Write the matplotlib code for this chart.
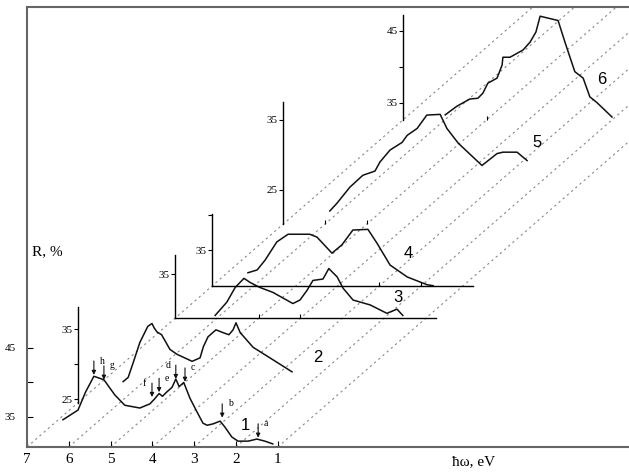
import matplotlib
matplotlib.use("Agg")
import matplotlib.pyplot as plt

W, H = 629, 473
PX_EV = 41.8          # pixels per eV along every energy axis
SLOPE = 0.87          # rise of the perspective diagonals (px up per px right)
SERIF = "Liberation Serif"
SANS = "Liberation Sans"

# --- spectra (photon energy in eV, reflectivity R in %) ---
e1 = [6.14, 5.78, 5.60, 5.40, 5.16, 4.90, 4.66, 4.30, 4.06, 3.95, 3.84, 3.76,
      3.66, 3.53, 3.44, 3.36, 3.25, 3.10, 2.93, 2.79, 2.69, 2.55, 2.38, 2.26,
      2.10, 1.95, 1.71, 1.50, 1.31, 1.12]
r1 = [34.6, 36.0, 38.6, 40.9, 40.4, 38.2, 36.7, 36.3, 36.9, 37.6, 38.4, 38.0,
      38.6, 39.3, 40.5, 39.4, 40.0, 37.7, 35.7, 34.1, 33.8, 34.0, 34.4, 33.5,
      32.1, 31.5, 31.5, 31.8, 31.5, 31.1]

e2 = [5.92, 5.80, 5.68, 5.52, 5.33, 5.23, 5.18, 5.11, 5.00, 4.80, 4.63, 4.27,
      4.08, 4.00, 3.89, 3.70, 3.53, 3.39, 3.29, 3.22, 3.12, 2.81, 2.33, 1.88]
r2 = [27.5, 28.1, 30.2, 33.1, 35.4, 35.8, 35.2, 34.6, 34.2, 32.1, 31.4, 30.4,
      30.9, 32.5, 33.9, 34.9, 34.5, 34.2, 34.9, 35.9, 34.5, 32.4, 30.6, 28.9]

e3 = [6.04, 5.76, 5.56, 5.35, 5.20, 4.97, 4.66, 4.42, 4.18, 4.01, 3.84, 3.70,
      3.46, 3.32, 3.12, 2.98, 2.74, 2.33, 1.93, 1.69, 1.55]
r3 = [29.1, 31.0, 33.1, 34.4, 33.8, 33.1, 32.4, 31.6, 30.8, 31.3, 32.7, 34.1,
      34.3, 35.8, 34.6, 33.0, 31.3, 30.6, 29.4, 30.0, 29.1]

e4 = [6.14, 5.92, 5.73, 5.45, 5.18, 4.66, 4.49, 4.13, 3.89, 3.63, 3.27, 3.05,
      2.74, 2.33, 1.86, 1.71]
r4 = [31.8, 32.2, 33.6, 36.2, 37.3, 37.3, 36.9, 34.6, 35.8, 37.9, 38.0, 36.0,
      32.9, 31.2, 30.1, 29.95]

e5 = [5.88, 5.71, 5.40, 5.09, 4.80, 4.68, 4.44, 4.15, 4.03, 3.79, 3.56, 3.24,
      3.08, 2.81, 2.24, 1.88, 1.74, 1.40, 1.16]
r5 = [22.0, 23.1, 25.4, 27.1, 27.7, 29.0, 30.7, 31.8, 32.8, 33.8, 35.7, 35.8,
      33.8, 31.7, 28.5, 30.2, 30.4, 30.4, 29.2]

e6 = [5.99, 5.71, 5.40, 5.21, 5.09, 4.97, 4.75, 4.63, 4.61, 4.44, 4.13, 3.96,
      3.82, 3.72, 3.29, 3.12, 2.89, 2.69, 2.53, 2.36, 2.00]
r6 = [33.3, 34.5, 35.5, 35.6, 36.3, 37.7, 38.4, 40.2, 41.3, 41.3, 42.3, 43.4,
      44.8, 47.0, 46.4, 43.3, 39.3, 38.4, 35.8, 35.0, 33.0]

# stacked panels for spectra 2..6
shift_px = [51, 148, 185, 256, 376]
r_base = [24.5, 28.7, 29.9, 20.1, 32.6]
r_top = [38.1, 37.7, 40.2, 37.5, 47.2]
px_pct = [7.0, 7.0, 7.0, 7.0, 7.2]
y_ticks = [[25, 30, 35], [35], [35, 40], [25, 35], [35, 40, 45]]
y_labels = [["25", "", "35"], ["35"], ["35", ""], ["25", "35"], ["35", "", "45"]]
x_ticks = [[], [5, 4], [3, 2], [6, 5], [5]]
show_base = [False, True, True, False, False]

# structure labels on spectrum 1
ann_names = ["h", "g", "f", "e", "d", "c", "b", "a"]
ann_E = [5.40, 5.16, 4.01, 3.84, 3.44, 3.22, 2.33, 1.47]
ann_R = [41.1, 40.4, 37.9, 38.6, 40.5, 40.1, 34.9, 32.0]
ann_side = [1, 1, -1, 1, -1, 1, 1, 1]

diag_E = [7, 6, 5, 4, 3, 2, 1]
bottom_ticks = [7, 6, 5, 4, 3, 2, 1]

fig = plt.figure(figsize=(W / 100, H / 100), dpi=100)


def px_rect(x0, y_bottom, w, h):
    return [x0 / W, (H - y_bottom) / H, w / W, h / H]


# --- main frame, carries spectrum 1 ---
main_scale = 6.9
main_r0 = 30.65
ax = fig.add_axes(px_rect(27, 447, 602, 440))
ax.set_xlim(7, 7 - 602 / PX_EV)
ax.set_ylim(main_r0, main_r0 + 440 / main_scale)
for side in ["left", "top", "bottom"]:
    ax.spines[side].set_color("#666666")
    ax.spines[side].set_linewidth(1.5)
ax.spines["right"].set_visible(False)
ax.set_xticks(bottom_ticks)
ax.set_xticklabels([str(t) for t in bottom_ticks], family=SERIF, fontsize=11)
ax.set_yticks([35, 40, 45])
ax.set_yticklabels(["35", "", "45"], family=SERIF, fontsize=8)
ax.tick_params(axis="x", direction="in", length=4, pad=4)
ax.tick_params(axis="y", direction="in", length=4, pad=8)

# perspective diagonals through every energy tick
T = 800
for e in diag_E:
    ax.plot([e, e - T / PX_EV], [main_r0, main_r0 + SLOPE * T / main_scale],
            color="#888888", lw=0.8, ls=(0, (2, 3)), zorder=1)

ax.plot(e1, r1, color="#111111", lw=1.1, zorder=3)

for name, e, r, s in zip(ann_names, ann_E, ann_R, ann_side):
    ax.annotate("", xy=(e, r), xytext=(0, 10), textcoords="offset points",
                arrowprops=dict(arrowstyle="-|>", lw=0.8, color="#111111",
                                mutation_scale=6, shrinkA=0, shrinkB=0))
    ax.annotate(name, xy=(e, r), xytext=(s * 4, 10), textcoords="offset points",
                ha="left" if s > 0 else "right", va="center",
                fontsize=7, family=SERIF)

# --- spectra 2..6 on shifted panels ---
curves = [(e2, r2), (e3, r3), (e4, r4), (e5, r5), (e6, r6)]
for i, (ev, rv) in enumerate(curves):
    d = shift_px[i]
    x0 = 27 + d
    y0 = 447 - SLOPE * d
    h = (r_top[i] - r_base[i]) * px_pct[i]
    sub = fig.add_axes(px_rect(x0, y0, (7 - 0.76) * PX_EV, h))
    sub.patch.set_alpha(0)
    sub.set_xlim(7, 0.76)
    sub.set_ylim(r_base[i], r_top[i])
    sub.spines["top"].set_visible(False)
    sub.spines["right"].set_visible(False)
    sub.spines["bottom"].set_visible(show_base[i])
    sub.spines["left"].set_linewidth(1.0)
    sub.spines["bottom"].set_linewidth(1.0)
    sub.set_xticks(x_ticks[i])
    sub.set_xticklabels([])
    sub.tick_params(axis="x", direction="in", length=3)
    sub.set_yticks(y_ticks[i])
    sub.set_yticklabels(y_labels[i], family=SERIF, fontsize=8)
    sub.tick_params(axis="y", direction="out", length=3, pad=1)
    sub.plot(ev, rv, color="#111111", lw=1.1, clip_on=False)

# --- text ---
fig.text(32 / W, 1 - 252 / H, "R, %", family=SERIF, fontsize=11, va="center")
fig.text(452 / W, 1 - 462 / H, "ħω, eV", family=SERIF, fontsize=11, va="center")
curve_names = ["1", "2", "3", "4", "5", "6"]
name_xy = [(245, 425), (318, 357), (398, 297), (408, 253), (537, 142), (602, 80)]
for n, (x, y) in zip(curve_names, name_xy):
    fig.text(x / W, 1 - y / H, n, family=SANS, fontsize=12, ha="center", va="center")

fig.savefig("out.png", dpi=100)
